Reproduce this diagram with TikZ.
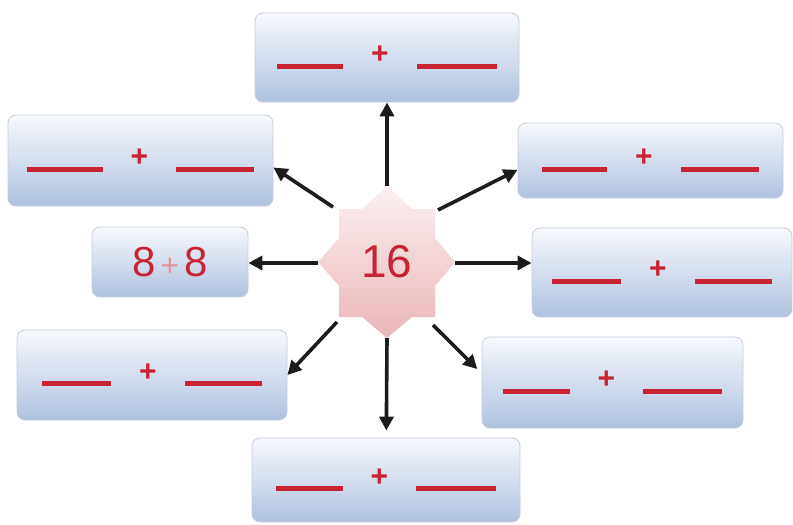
\documentclass[tikz,border=0pt]{standalone}
\usepackage{fontspec}
\setmainfont{Liberation Sans}
\usetikzlibrary{arrows.meta,positioning,calc}

\definecolor{sumred}{RGB}{200,35,50}
\definecolor{pluspink}{RGB}{225,150,155}
\definecolor{boxtop}{RGB}{247,249,253}
\definecolor{boxbot}{RGB}{176,194,223}
\definecolor{boxline}{RGB}{196,205,220}
\definecolor{startop}{RGB}{251,240,240}
\definecolor{starbot}{RGB}{234,182,185}
\definecolor{arrowgray}{RGB}{28,28,28}

% one blank and a sum of two blanks
\newcommand{\blank}[1]{\textcolor{sumred}{\rule[-8pt]{#1pt}{5pt}}}
\newcommand{\sumline}[2]{\blank{#1}\hspace{28pt}\raisebox{-3pt}{\textcolor{sumred}{\textbf{+}}}\hspace{28pt}\blank{#2}}

\begin{document}
\begin{tikzpicture}[x=1pt,y=-1pt,
  sumbox/.style={draw=boxline, line width=0.8pt, rounded corners=8pt,
    top color=boxtop, bottom color=boxbot, inner sep=0pt,
    font=\fontsize{30}{32}\selectfont},
  arrow/.style={draw=arrowgray, line width=3.6pt,
    -{Triangle[length=14pt,width=14pt]}}]
\useasboundingbox (0,0) rectangle (793,525);

% the star
\shade[top color=startop, bottom color=starbot]
  (339,209) -- (362,209) -- (387,186) -- (412,209) -- (435,209)
  -- (435,238) -- (455,262) -- (435,286) -- (435,317)
  -- (412,317) -- (387,338) -- (362,317) -- (339,317)
  -- (339,286) -- (318,262) -- (339,238) -- cycle;
\node[text=sumred, font=\fontsize{46}{46}\selectfont] (num) at (387,262) {16};

% the boxes
\node[sumbox, minimum width=264pt, minimum height=89pt] (sumN) at (387,57.5) {\sumline{66}{80}};
\node[sumbox, minimum width=265pt, minimum height=91pt] (sumNW) at (140.5,160.5) {\sumline{76}{78}};
\node[sumbox, minimum width=265pt, minimum height=75pt] (sumNE) at (650.5,160.5) {\sumline{65}{78}};
\node[sumbox, minimum width=260pt, minimum height=89pt] (sumE) at (662,272.5) {\sumline{69}{77}};
\node[sumbox, minimum width=156pt, minimum height=70pt, font=\fontsize{42}{42}\selectfont] (sumW) at (170,262)
  {\textcolor{sumred}{8}\hspace{5pt}\textcolor{pluspink}{\fontsize{32}{32}\selectfont+}\hspace{5pt}\textcolor{sumred}{8}};
\node[sumbox, minimum width=270pt, minimum height=90pt] (sumSW) at (152,375) {\sumline{69}{77}};
\node[sumbox, minimum width=261pt, minimum height=91pt] (sumSE) at (612.5,382.5) {\sumline{67}{79}};
\node[sumbox, minimum width=268pt, minimum height=84pt] (sumS) at (386,480) {\sumline{67}{80}};

% where the arrows leave the star
\coordinate (pN) at (387,186);
\coordinate (pNW) at (333,207);
\coordinate (pNE) at (438,210);
\coordinate (pE) at (455,263);
\coordinate (pW) at (318,263);
\coordinate (pSW) at (337,322);
\coordinate (pSE) at (433,325);
\coordinate (pS) at (387,338);

\draw[arrow] (pN) -- (sumN);
\draw[arrow] (pNW) -- (sumNW.-3);
\draw[arrow] (pNE) -- (sumNE.184);
\draw[arrow] (pE) -- (pE -| sumE.west);
\draw[arrow] (pW) -- (pW -| sumW.east);
\draw[arrow] (pSW) -- (sumSW.east);
\draw[arrow, shorten >=6pt] (pSE) -- (sumSE.176);
\draw[arrow, shorten >=7pt] (pS) -- (sumS);
\end{tikzpicture}
\end{document}
